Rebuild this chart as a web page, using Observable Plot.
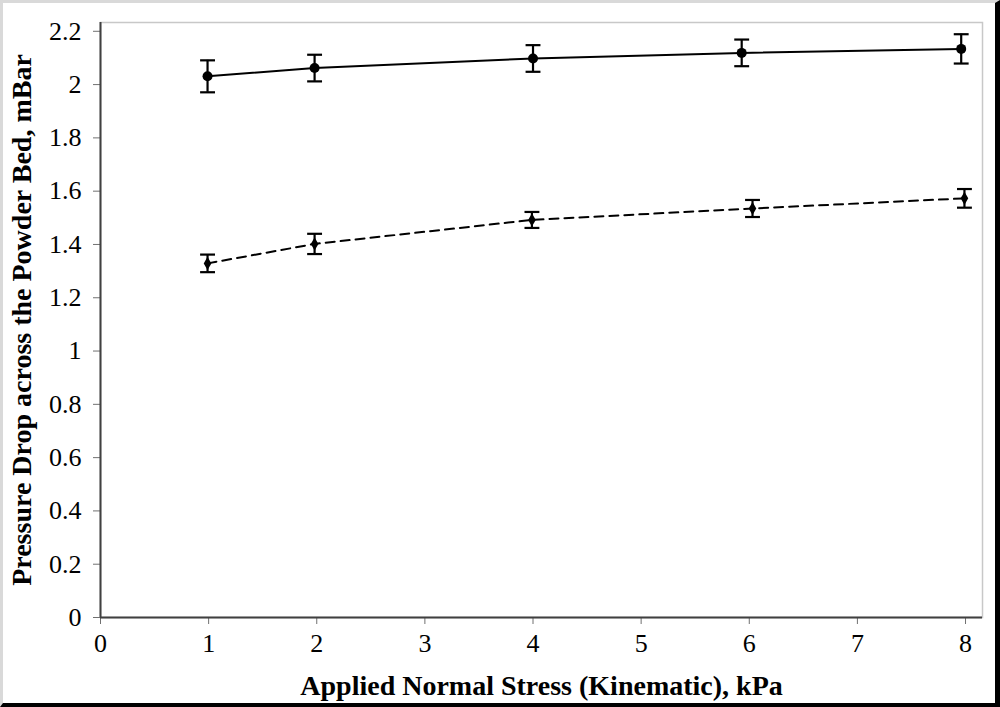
<!DOCTYPE html>
<html>
<head>
<meta charset="utf-8">
<script src="https://cdn.jsdelivr.net/npm/d3@7"></script>
<script src="https://cdn.jsdelivr.net/npm/@observablehq/plot@0.6"></script>
<style>
  html, body { margin: 0; padding: 0; background: white; }
  #wrap { position: relative; width: 1000px; height: 707px; overflow: hidden; }
  #border { position: absolute; left: 0; top: 0; width: 1000px; height: 707px; box-sizing: border-box;
            border-top: 3px solid #d9d9d9; border-left: 3px solid #d9d9d9;
            border-right: 5px solid #000; border-bottom: 4px solid #000; pointer-events: none; }
</style>
</head>
<body>
<div id="wrap"><div id="chart"></div><div id="border"></div></div>
<script>
// Series 1 (solid line, filled circles)
const solidX = [0.99, 1.98, 4.0, 5.93, 7.96];
const solidY = [2.031, 2.062, 2.098, 2.119, 2.134];
const solidErr = [0.06, 0.05, 0.05, 0.05, 0.055];
// Series 2 (dashed line, small diamonds)
const dashedX = [0.99, 1.98, 3.99, 6.03, 7.99];
const dashedY = [1.329, 1.402, 1.492, 1.535, 1.573];
const dashedErr = [0.033, 0.038, 0.03, 0.032, 0.035];
// Ticks
const xTicks = [0, 1, 2, 3, 4, 5, 6, 7, 8];
const yTicks = [0, 0.2, 0.4, 0.6, 0.8, 1, 1.2, 1.4, 1.6, 1.8, 2, 2.2];
const xTitle = "Applied Normal Stress (Kinematic), kPa";
const yTitle = "Pressure Drop across the Powder Bed, mBar";

const solid = solidX.map((x, i) => ({x, y: solidY[i], lo: solidY[i] - solidErr[i], hi: solidY[i] + solidErr[i]}));
const dashed = dashedX.map((x, i) => ({x, y: dashedY[i], lo: dashedY[i] - dashedErr[i], hi: dashedY[i] + dashedErr[i]}));

const cap = {draw(ctx, size) { const w = Math.sqrt(size); ctx.moveTo(-w, 0); ctx.lineTo(w, 0); }};

function errMarks(data) {
  return [
    Plot.ruleX(data, {x: "x", y1: "lo", y2: "hi", stroke: "black", strokeWidth: 2.2}),
    Plot.dot(data, {x: "x", y: "lo", symbol: cap, r: 4.2, stroke: "black", strokeWidth: 2.2, fill: "none"}),
    Plot.dot(data, {x: "x", y: "hi", symbol: cap, r: 4.2, stroke: "black", strokeWidth: 2.2, fill: "none"})
  ];
}

const chart = Plot.plot({
  width: 1000,
  height: 707,
  marginLeft: 100,
  marginRight: 18,
  marginTop: 22,
  marginBottom: 90,
  style: {fontFamily: "'Liberation Serif', 'Times New Roman', serif", fontSize: "26px", color: "black", background: "white"},
  x: {domain: [0, 8.157]},
  y: {domain: [0, 2.233]},
  marks: [
    Plot.frame({stroke: "#c8c8c8", strokeWidth: 1.5}),
    Plot.axisX({ticks: xTicks, tickSize: 7, tickPadding: 9, stroke: "#707070", fill: "black", label: null, fontSize: 26, tickFormat: d => String(d)}),
    Plot.axisY({ticks: yTicks, tickSize: 7, tickPadding: 12, stroke: "#707070", fill: "black", label: null, fontSize: 26, tickFormat: d => String(+d.toFixed(1))}),
    Plot.ruleY([0], {stroke: "#404040", strokeWidth: 2}),
    Plot.ruleX([0], {stroke: "#404040", strokeWidth: 2}),
    Plot.line(solid, {x: "x", y: "y", stroke: "black", strokeWidth: 2}),
    Plot.line(dashed, {x: "x", y: "y", stroke: "black", strokeWidth: 2, strokeDasharray: "9,6"}),
    ...errMarks(solid),
    ...errMarks(dashed),
    Plot.dot(solid, {x: "x", y: "y", r: 5, fill: "black", stroke: "none"}),
    Plot.dot(dashed, {x: "x", y: "y", symbol: "diamond", r: 4, fill: "black", stroke: "none"}),
    Plot.text([xTitle], {frameAnchor: "bottom", dy: 69, fontWeight: "bold", fontSize: 28, fill: "black", lineAnchor: "middle", textAnchor: "middle"}),
    Plot.text([yTitle], {frameAnchor: "left", dx: -78, rotate: -90, fontWeight: "bold", fontSize: 28, fill: "black", lineAnchor: "middle", textAnchor: "middle"})
  ]
});
document.getElementById("chart").append(chart);
</script>
</body>
</html>
